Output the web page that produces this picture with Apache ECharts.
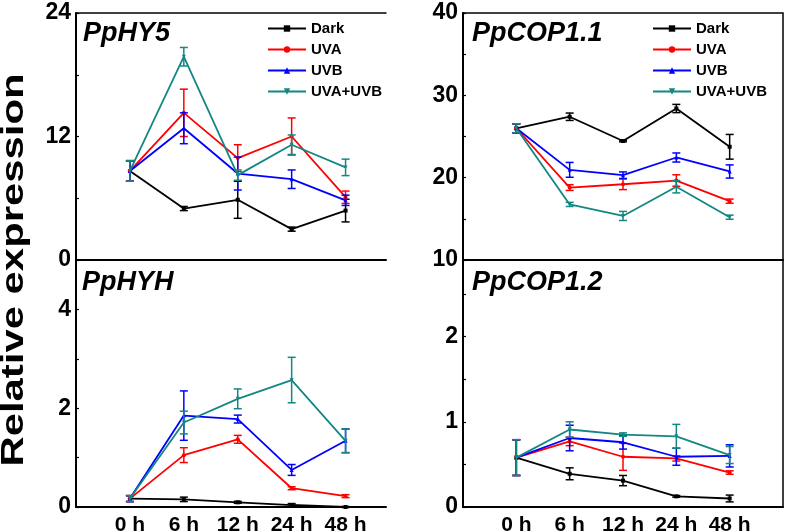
<!DOCTYPE html>
<html>
<head>
<meta charset="utf-8">
<script src="https://cdn.jsdelivr.net/npm/echarts@6/dist/echarts.min.js"></script>
<style>
html,body{margin:0;padding:0;background:#fff;}
#chart{width:787px;height:531px;}
</style>
</head>
<body>
<div id="chart"></div>
<script>
// ---- data ----
const timeLabels = ['0 h', '6 h', '12 h', '24 h', '48 h'];
const treatments = ['Dark', 'UVA', 'UVB', 'UVA+UVB'];
const geneNames = ['PpHY5', 'PpCOP1.1', 'PpHYH', 'PpCOP1.2'];

// PpHY5
const hy5Dark   = [8.65, 5.0, 5.85, 3.0, 4.8];
const hy5DarkSd = [1.0, 0.2, 1.8, 0.2, 1.1];
const hy5Uva    = [8.65, 14.3, 9.9, 12.0, 6.1];
const hy5UvaSd  = [1.0, 2.3, 1.3, 1.8, 0.6];
const hy5Uvb    = [8.65, 12.8, 8.4, 7.85, 5.8];
const hy5UvbSd  = [1.0, 1.5, 1.6, 0.9, 0.5];
const hy5Both   = [8.65, 19.75, 8.25, 11.2, 9.0];
const hy5BothSd = [1.0, 0.9, 0.5, 0.95, 0.8];

// PpCOP1.1
const cop11Dark   = [26.0, 27.4, 24.45, 28.4, 23.75];
const cop11DarkSd = [0.55, 0.45, 0.1, 0.5, 1.5];
const cop11Uva    = [26.0, 18.8, 19.2, 19.65, 17.15];
const cop11UvaSd  = [0.55, 0.35, 0.65, 0.7, 0.25];
const cop11Uvb    = [26.0, 20.95, 20.3, 22.45, 20.75];
const cop11UvbSd  = [0.55, 0.9, 0.4, 0.55, 0.8];
const cop11Both   = [26.0, 16.75, 15.35, 18.9, 15.2];
const cop11BothSd = [0.55, 0.25, 0.55, 0.75, 0.25];

// PpHYH
const hyhDark   = [0.17, 0.155, 0.095, 0.04, 0.0];
const hyhDarkSd = [0.06, 0.045, 0.02, 0.03, 0.01];
const hyhUva    = [0.17, 1.05, 1.37, 0.38, 0.22];
const hyhUvaSd  = [0.06, 0.15, 0.08, 0.03, 0.03];
const hyhUvb    = [0.17, 1.85, 1.78, 0.75, 1.34];
const hyhUvbSd  = [0.06, 0.5, 0.08, 0.11, 0.24];
const hyhBoth   = [0.17, 1.71, 2.19, 2.57, 1.34];
const hyhBothSd = [0.06, 0.23, 0.2, 0.46, 0.24];

// PpCOP1.2
const cop12Dark   = [0.58, 0.39, 0.31, 0.125, 0.1];
const cop12DarkSd = [0.21, 0.07, 0.06, 0.01, 0.04];
const cop12Uva    = [0.58, 0.77, 0.59, 0.57, 0.405];
const cop12UvaSd  = [0.21, 0.05, 0.16, 0.03, 0.02];
const cop12Uvb    = [0.58, 0.81, 0.76, 0.59, 0.6];
const cop12UvbSd  = [0.21, 0.15, 0.08, 0.1, 0.13];
const cop12Both   = [0.58, 0.91, 0.85, 0.83, 0.61];
const cop12BothSd = [0.21, 0.09, 0.02, 0.14, 0.1];

// y-axis tick labels shown per panel
const hy5Ticks   = [0, 12, 24];
const cop11Ticks = [10, 20, 30, 40];
const hyhTicks   = [0, 2, 4];
const cop12Ticks = [0, 1, 2];

// ---- build ----
const FONT = "'Liberation Sans', Arial, sans-serif";
const colors = ['#000000', '#ff0000', '#0000ff', '#138782'];
const symbols = ['rect', 'circle', 'triangle', 'path://M0,0 L10,0 L5,9 Z'];

const panelData = [
  [[hy5Dark, hy5DarkSd], [hy5Uva, hy5UvaSd], [hy5Uvb, hy5UvbSd], [hy5Both, hy5BothSd]],
  [[cop11Dark, cop11DarkSd], [cop11Uva, cop11UvaSd], [cop11Uvb, cop11UvbSd], [cop11Both, cop11BothSd]],
  [[hyhDark, hyhDarkSd], [hyhUva, hyhUvaSd], [hyhUvb, hyhUvbSd], [hyhBoth, hyhBothSd]],
  [[cop12Dark, cop12DarkSd], [cop12Uva, cop12UvaSd], [cop12Uvb, cop12UvbSd], [cop12Both, cop12BothSd]]
];
const panelTicks = [hy5Ticks, cop11Ticks, hyhTicks, cop12Ticks];
const yCfg = [
  {min: 0, max: 24, interval: 6},
  {min: 10, max: 40, interval: 5},
  {min: 0, max: 5, interval: 1},
  {min: 0, max: 2.9, interval: 0.5}
];

const grids = [
  {left: 76, top: 13, width: 310, height: 247, outerBoundsMode: 'none', containLabel: false},
  {left: 463, top: 13, width: 320, height: 247, show: true, borderColor: '#000', borderWidth: 1.5, outerBoundsMode: 'none', containLabel: false},
  {left: 76, top: 260, width: 310, height: 247, outerBoundsMode: 'none', containLabel: false},
  {left: 463, top: 260, width: 320, height: 247, show: true, borderColor: '#000', borderWidth: 1.5, outerBoundsMode: 'none', containLabel: false}
];
const xRange = [[-1, 4.75], [-1, 5], [-1, 4.75], [-1, 5]];

const xAxes = grids.map((g, i) => ({
  type: 'value', gridIndex: i, min: xRange[i][0], max: xRange[i][1], interval: 1,
  splitLine: {show: false},
  axisTick: {show: false},
  axisLine: {show: true, lineStyle: {color: '#000', width: 2}},
  axisLabel: {
    show: i >= 2, margin: 8, color: '#000', fontSize: 21, fontWeight: 'bold', fontFamily: FONT,
    showMinLabel: false, showMaxLabel: false,
    formatter: v => (Number.isInteger(v) && v >= 0 && v < timeLabels.length) ? timeLabels[v] : ''
  }
}));
// top border for upper-left panel
xAxes.push({
  type: 'value', gridIndex: 0, position: 'top', min: -1, max: 4.75,
  splitLine: {show: false}, axisTick: {show: false}, axisLabel: {show: false},
  axisLine: {show: true, lineStyle: {color: '#000', width: 1.5}}
});

const yAxes = grids.map((g, i) => ({
  type: 'value', gridIndex: i, min: yCfg[i].min, max: yCfg[i].max, interval: yCfg[i].interval,
  splitLine: {show: false},
  axisLine: {show: true, onZero: false, lineStyle: {color: '#000', width: 2}},
  axisTick: {show: true, inside: true, length: 3, lineStyle: {color: '#000', width: 1.2}},
  axisLabel: {
    margin: 5, color: '#000', fontSize: 23, fontWeight: 'bold', fontFamily: FONT,
    showMaxLabel: i !== 2 && i !== 3 ? true : false,
    formatter: v => panelTicks[i].some(t => Math.abs(t - v) < 1e-9) ? String(+v.toFixed(2)) : ''
  }
}));

const series = [];
panelData.forEach((pd, gi) => {
  pd.forEach((pair, ti) => {
    const [mean, sd] = pair;
    const color = colors[ti];
    series.push({
      type: 'line', name: treatments[ti], xAxisIndex: gi, yAxisIndex: gi,
      data: mean.map((v, k) => [k, v]),
      symbol: symbols[ti], symbolSize: 4, showSymbol: true,
      lineStyle: {color, width: 1.8}, itemStyle: {color},
      animation: false, z: 3 + ti
    });
    series.push({
      type: 'custom', name: treatments[ti], xAxisIndex: gi, yAxisIndex: gi,
      data: mean.map((v, k) => [k, v, sd[k]]),
      encode: {x: 0, y: 1},
      clip: false, animation: false, z: 3 + ti,
      renderItem: (params, api) => {
        const x = api.value(0), y = api.value(1), e = api.value(2);
        const p1 = api.coord([x, y + e]);
        const p2 = api.coord([x, y - e]);
        const w = 4;
        const style = {stroke: color, lineWidth: 1.5};
        return {type: 'group', children: [
          {type: 'line', shape: {x1: p1[0], y1: p1[1], x2: p2[0], y2: p2[1]}, style},
          {type: 'line', shape: {x1: p1[0] - w, y1: p1[1], x2: p1[0] + w, y2: p1[1]}, style},
          {type: 'line', shape: {x1: p2[0] - w, y1: p2[1], x2: p2[0] + w, y2: p2[1]}, style}
        ]};
      }
    });
  });
});

const legendBase = {
  orient: 'vertical', data: treatments, selectedMode: false,
  itemWidth: 38, itemHeight: 8, itemGap: 6,
  textStyle: {color: '#000', fontSize: 15, fontWeight: 'bold', fontFamily: FONT, lineHeight: 15}
};

const titleFont = "italic bold 27px 'Liberation Sans', Arial, sans-serif";
const titlePos = [[83, 34], [472, 34], [82, 283], [472, 283]];

const option = {
  backgroundColor: '#fff',
  animation: false,
  grid: grids,
  xAxis: xAxes,
  yAxis: yAxes,
  legend: [
    Object.assign({left: 262, top: 16}, legendBase),
    Object.assign({left: 647, top: 16}, legendBase)
  ],
  graphic: [
    {
      type: 'text', x: 14, y: 270, rotation: Math.PI / 2, scaleX: 1.35,
      style: {text: 'Relative expression', font: "bold 31px 'Liberation Sans', Arial, sans-serif",
              fill: '#000', textAlign: 'center', textVerticalAlign: 'middle'}
    }
  ].concat(geneNames.map((n, i) => ({
    type: 'text', x: titlePos[i][0], y: titlePos[i][1],
    style: {text: n, font: titleFont, fill: '#000', textAlign: 'left', textVerticalAlign: 'middle'}
  }))),
  series: series
};

const chart = echarts.init(document.getElementById('chart'), null, {renderer: 'canvas'});
chart.setOption(option);
</script>
</body>
</html>
